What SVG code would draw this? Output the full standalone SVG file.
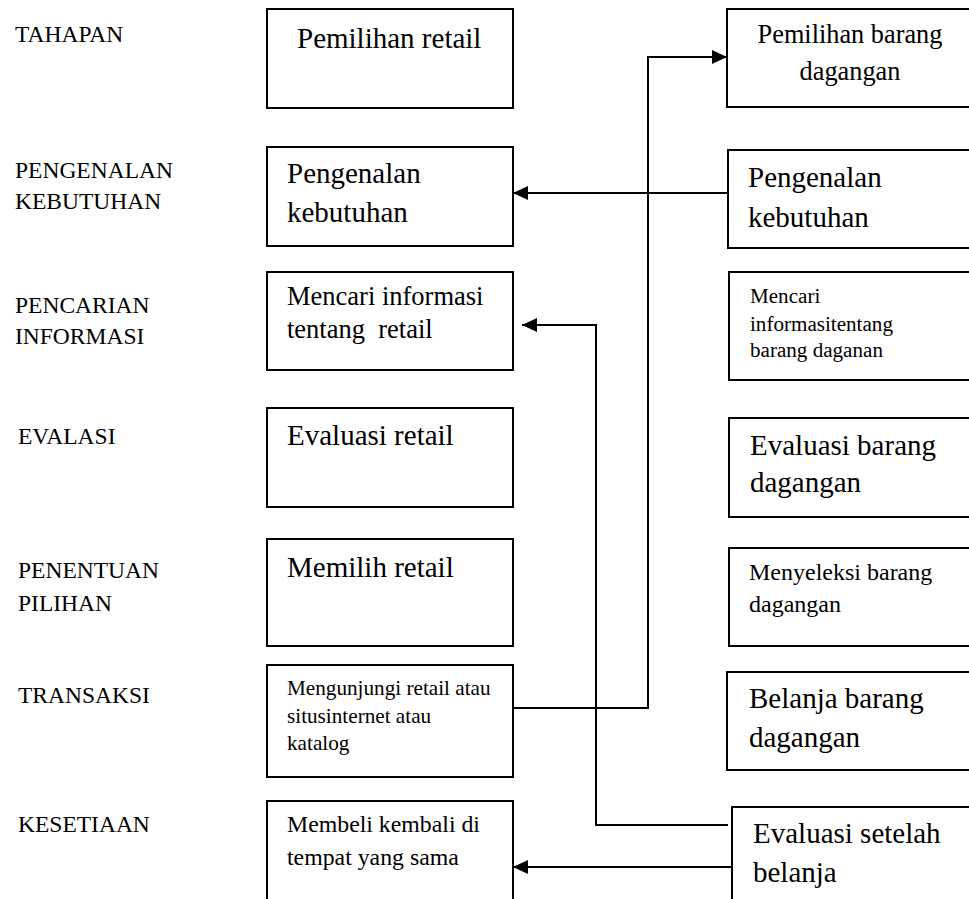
<svg xmlns="http://www.w3.org/2000/svg" width="969" height="899" viewBox="0 0 969 899">
<style>
.bx{fill:#fff;stroke:#000;stroke-width:2}
.t{font-family:"Liberation Serif","Times New Roman",serif;fill:#000}
.lbl{font-size:23.5px}
.ln{fill:none;stroke:#000;stroke-width:2}
</style>
<defs>
<marker id="ah" markerWidth="16" markerHeight="14" refX="15" refY="7" orient="auto" markerUnits="userSpaceOnUse">
<path d="M0,0 L15,7 L0,14 Z" fill="#000"/>
</marker>
</defs>
<rect width="969" height="899" fill="#fff"/>
<g id="labels" class="t lbl">
<text x="15" y="42">TAHAPAN</text>
<text x="15" y="178">PENGENALAN</text>
<text x="15" y="209">KEBUTUHAN</text>
<text x="15" y="313">PENCARIAN</text>
<text x="15" y="344">INFORMASI</text>
<text x="18" y="444">EVALASI</text>
<text x="18" y="578">PENENTUAN</text>
<text x="18" y="611">PILIHAN</text>
<text x="18" y="703">TRANSAKSI</text>
<text x="18" y="832">KESETIAAN</text>
</g>
<g id="L1"><rect class="bx" x="267" y="9" width="246" height="99"/><text class="t" x="297" y="48" font-size="29">Pemilihan retail</text></g>
<g id="L2"><rect class="bx" x="267" y="147" width="246" height="99"/><text class="t" x="287" y="183" font-size="29">Pengenalan</text><text class="t" x="287" y="222" font-size="29">kebutuhan</text></g>
<g id="L3"><rect class="bx" x="267" y="272" width="246" height="98"/><text class="t" x="287" y="305" font-size="26.5">Mencari informasi</text><text class="t" x="287" y="338" font-size="26.5" xml:space="preserve">tentang  retail</text></g>
<g id="L4"><rect class="bx" x="267" y="408" width="246" height="99"/><text class="t" x="287" y="445" font-size="29">Evaluasi retail</text></g>
<g id="L5"><rect class="bx" x="267" y="539" width="246" height="107"/><text class="t" x="287" y="577" font-size="29">Memilih retail</text></g>
<g id="L6"><rect class="bx" x="267" y="665" width="246" height="112"/><text class="t" x="287" y="695" font-size="21.2">Mengunjungi retail atau</text><text class="t" x="287" y="723" font-size="21.2">situsinternet atau</text><text class="t" x="287" y="750" font-size="21.2">katalog</text></g>
<g id="L7"><rect class="bx" x="267" y="801" width="246" height="110"/><text class="t" x="287" y="832" font-size="23.8">Membeli kembali di</text><text class="t" x="287" y="865" font-size="23.8">tempat yang sama</text></g>
<g id="R1"><rect class="bx" x="727" y="9" width="260" height="98"/><text class="t" x="850" y="43" font-size="26.3" text-anchor="middle">Pemilihan barang</text><text class="t" x="850" y="80" font-size="26.3" text-anchor="middle">dagangan</text></g>
<g id="R2"><rect class="bx" x="728" y="150" width="260" height="98"/><text class="t" x="748" y="187" font-size="29">Pengenalan</text><text class="t" x="748" y="227" font-size="29">kebutuhan</text></g>
<g id="R3"><rect class="bx" x="729" y="272" width="260" height="108"/><text class="t" x="750" y="303" font-size="21.1">Mencari</text><text class="t" x="750" y="331" font-size="21.1">informasitentang</text><text class="t" x="750" y="357" font-size="21.1">barang daganan</text></g>
<g id="R4"><rect class="bx" x="729" y="418" width="260" height="99"/><text class="t" x="750" y="455" font-size="29">Evaluasi barang</text><text class="t" x="750" y="492" font-size="29">dagangan</text></g>
<g id="R5"><rect class="bx" x="729" y="548" width="260" height="98"/><text class="t" x="749" y="580" font-size="24">Menyeleksi barang</text><text class="t" x="749" y="612" font-size="24">dagangan</text></g>
<g id="R6"><rect class="bx" x="727" y="672" width="260" height="98"/><text class="t" x="749" y="708" font-size="29">Belanja barang</text><text class="t" x="749" y="747" font-size="29">dagangan</text></g>
<g id="R7"><rect class="bx" x="732" y="807" width="260" height="110"/><text class="t" x="753" y="843" font-size="29">Evaluasi setelah</text><text class="t" x="753" y="882" font-size="29">belanja</text></g>
<g id="connectors">
<path class="ln" d="M728,193 H513" marker-end="url(#ah)"/>
<path class="ln" d="M513,708 H648 V57 H727" marker-end="url(#ah)"/>
<path class="ln" d="M728,825 H596 V325 H522" marker-end="url(#ah)"/>
<path class="ln" d="M732,867 H513" marker-end="url(#ah)"/>
</g>
</svg>
